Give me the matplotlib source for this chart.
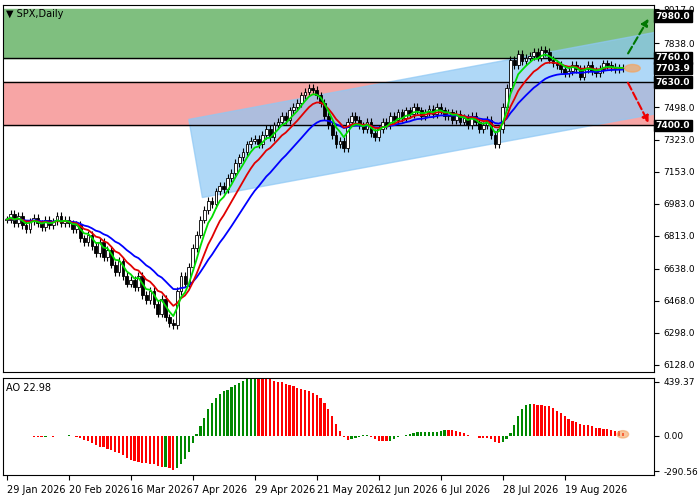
import numpy as np
import matplotlib
matplotlib.use("Agg")
import matplotlib.pyplot as plt
from matplotlib.patches import Polygon, Ellipse

closes = [6900, 6930, 6880, 6920, 6870, 6850, 6890, 6910, 6880, 6860, 6900, 6870, 6890, 6920, 6880, 6900,
          6880, 6850, 6870, 6800, 6780, 6820, 6760, 6720, 6780, 6700, 6740, 6660, 6620, 6680, 6600, 6560,
          6580, 6540, 6600, 6500, 6470, 6520, 6450, 6400, 6480, 6380, 6350, 6340, 6520, 6600, 6560, 6650,
          6750, 6820, 6900, 6950, 7000, 6980, 7050, 7080, 7060, 7120, 7150, 7200, 7230, 7260, 7300, 7320,
          7330, 7300, 7350, 7380, 7340, 7400, 7420, 7450, 7430, 7480, 7500, 7520, 7560, 7580, 7600, 7590,
          7560, 7520, 7450, 7400, 7350, 7300, 7320, 7280, 7420, 7450, 7430, 7400, 7380, 7420, 7360, 7340,
          7380, 7420, 7400, 7450, 7430, 7470, 7440, 7480, 7460, 7500, 7480, 7450, 7470, 7490, 7460, 7500,
          7480, 7450, 7470, 7430, 7460, 7420, 7440, 7400, 7450, 7420, 7380, 7400, 7430, 7350, 7300, 7380,
          7500, 7600, 7750, 7720, 7780, 7740, 7760, 7770, 7790, 7760, 7800, 7790, 7750, 7730, 7720, 7700,
          7680, 7690, 7720, 7700, 7660, 7700, 7720, 7690, 7680, 7700, 7730, 7720, 7710, 7700, 7705, 7703.9]
date_labels = ["29 Jan 2026", "20 Feb 2026", "16 Mar 2026", "7 Apr 2026", "29 Apr 2026",
               "21 May 2026", "12 Jun 2026", "6 Jul 2026", "28 Jul 2026", "19 Aug 2026"]
date_pos = [0, 16, 32, 48, 64, 80, 96, 112, 128, 144]
price_ticks = [8017, 7838, 7498, 7323, 7153, 6983, 6813, 6638, 6468, 6298, 6128]
levels = [7980.0, 7760.0, 7630.0, 7400.0]
last_price = 7703.9

c = np.array(closes, dtype=float)
n = len(c)
x = np.arange(n)
o = np.r_[c[0], c[:-1]]
wick = 20
h = np.maximum(o, c) + wick
l = np.minimum(o, c) - wick

def ema(a, span):
    out = np.empty_like(a)
    k = 2 / (span + 1)
    out[0] = a[0]
    for i in range(1, len(a)):
        out[i] = out[i - 1] + k * (a[i] - out[i - 1])
    return out

fig = plt.figure(figsize=(7, 5), dpi=100)
ax = fig.add_axes([0.004, 0.256, 0.93, 0.734])
ax2 = fig.add_axes([0.004, 0.05, 0.93, 0.194])
xmax = 167

# zones
ax.axhspan(7760, 8017, color="#7fbf7f", zorder=0)
ax.axhspan(7400, 7630, color="#f7a5a5", zorder=0)
for lv in levels[1:]:
    ax.axhline(lv, color="black", lw=1, zorder=3)
chan = Polygon([(47, 7432), (170, 7905), (173.5, 7485), (50.5, 7017)],
               closed=True, color="#8ec8f5", alpha=0.7, zorder=1)
ax.add_patch(chan)

# candles
for i in range(n):
    ax.vlines(x[i], l[i], h[i], color="black", lw=0.8, zorder=4)
    fc = "white" if c[i] >= o[i] else "black"
    ax.bar(x[i], max(abs(c[i] - o[i]), 2), bottom=min(o[i], c[i]), width=0.7,
           color=fc, edgecolor="black", lw=0.6, zorder=5)

ax.plot(x, ema(c, 20), color="#0000ff", lw=1.3, zorder=6)
ax.plot(x, ema(c, 10), color="#e00000", lw=1.3, zorder=6)
ax.plot(x, ema(c, 5), color="#00dd00", lw=1.3, zorder=6)

ax.add_patch(Ellipse((n + 1.5, last_price), 4, 40, color="#f4a460", alpha=0.7, zorder=7))
ax.annotate("", xy=(n + 6, 7980), xytext=(n, 7770),
            arrowprops=dict(arrowstyle="-|>", ls="--", color="#007700", lw=1.5), zorder=8)
ax.annotate("", xy=(n + 6, 7400), xytext=(n, 7640),
            arrowprops=dict(arrowstyle="-|>", ls="--", color="#ee0000", lw=1.5), zorder=8)

ax.set_xlim(-1, xmax)
ax.set_ylim(6090, 8040)
ax.yaxis.tick_right()
ax.set_yticks(price_ticks)
ax.set_yticklabels([f"{t:.1f}" for t in price_ticks], fontsize=6.5)
ax.set_xticks([])
for lv in levels + [last_price]:
    ax.text(1.003, lv, f"{lv:.1f}", transform=ax.get_yaxis_transform(), fontsize=6.5,
            color="white", fontweight="bold", va="center", ha="left",
            bbox=dict(boxstyle="square,pad=0.15", fc="black", ec="black"), clip_on=False)
ax.text(0.005, 0.99, "▼ SPX,Daily", transform=ax.transAxes, fontsize=7, va="top")

# AO
med = (h + l) / 2
def sma(a, k):
    return np.array([a[max(0, i - k + 1):i + 1].mean() for i in range(len(a))])
ao = sma(med, 5) - sma(med, 34)
cols = ["#008800" if i == 0 or ao[i] >= ao[i - 1] else "#ff0000" for i in range(n)]
ax2.bar(x, ao, width=0.6, color=cols)
ax2.add_patch(Ellipse((n - 1, ao[-1] / 2), 3, 60, color="#f4a460", alpha=0.6))
ax2.set_xlim(-1, xmax)
ax2.set_ylim(-320, 470)
ax2.yaxis.tick_right()
ax2.set_yticks([439.37, 0, -290.56])
ax2.set_yticklabels(["439.37", "0.00", "-290.56"], fontsize=6.5)
ax2.set_xticks(date_pos)
ax2.set_xticklabels(date_labels, fontsize=7, ha="left")
ax2.text(0.005, 0.95, f"AO {ao[-1]:.2f}", transform=ax2.transAxes, fontsize=7, va="top")

fig.savefig("out.png", dpi=100)
